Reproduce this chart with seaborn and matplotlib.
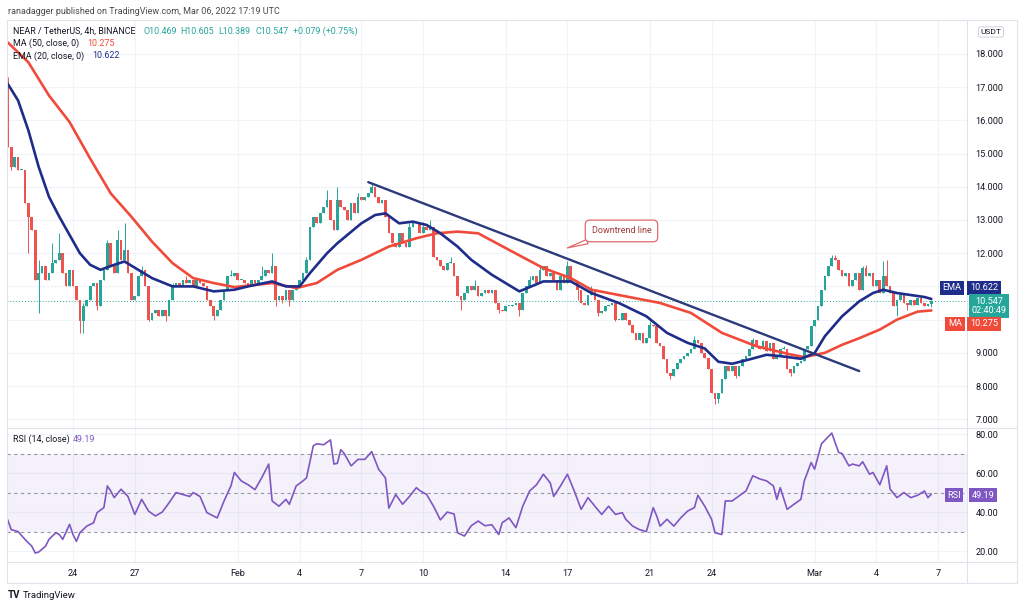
import numpy as np
import pandas as pd
import matplotlib
matplotlib.use("Agg")
import matplotlib.pyplot as plt
import matplotlib.dates as mdates
from matplotlib.lines import Line2D
from matplotlib.patches import Rectangle
import seaborn as sns

# NEAR / USDT 4h candles
first_time = "2022-01-20 20:00"
first_open = 17.2
closes = [
    15.2, 14.6, 14.9, 14.5, 14.5, 13.5, 13.1, 12.7, 11.2, 11.4,
    11.6, 11.2, 11.4, 11.7, 11.8, 12.0, 11.4, 11.0, 11.5, 11.0,
    10.6, 9.95, 10.4, 10.6, 11.0, 11.1, 10.4, 11.2, 11.5, 12.3,
    11.6, 11.4, 12.4, 11.8, 12.1, 11.4, 10.6, 10.7, 11.3, 11.5,
    11.0, 10.0, 10.2, 10.3, 10.1, 10.3, 10.1, 10.6, 11.0, 11.1,
    11.0, 11.2, 11.1, 11.2, 11.0, 11.2, 11.1, 11.0, 10.6, 10.4,
    10.1, 10.3, 10.6, 10.9, 11.3, 11.3, 11.4, 11.2, 11.2, 11.1,
    11.0, 11.2, 11.1, 11.2, 11.3, 11.5, 11.4, 11.6, 10.6, 10.7,
    10.6, 10.9, 10.6, 10.9, 11.0, 11.2, 11.4, 11.8, 12.8, 13.1,
    12.9, 13.2, 13.4, 13.6, 13.0, 12.7, 13.6, 13.4, 13.3, 13.0,
    13.5, 13.2, 13.7, 13.6, 13.7, 13.8, 14.0, 13.7, 13.5, 13.6,
    13.1, 12.6, 12.3, 12.2, 12.6, 12.3, 12.2, 12.8, 12.9, 12.9,
    12.6, 12.8, 12.7, 12.8, 11.9, 11.8, 11.6, 11.5, 11.7, 11.7,
    11.3, 10.7, 10.6, 10.8, 11.0, 10.9, 11.0, 10.7, 10.8, 10.9,
    10.8, 10.9, 10.5, 10.3, 10.25, 10.4, 10.4, 10.45, 10.5, 10.3,
    10.8, 11.0, 11.2, 11.3, 11.1, 11.5, 11.6, 11.3, 11.4, 11.2,
    10.9, 11.3, 11.1, 11.6, 11.15, 11.15, 10.9, 10.5, 10.45, 10.75,
    10.9, 10.6, 10.2, 10.25, 10.4, 10.45, 10.5, 10.0, 10.0, 10.2,
    10.0, 9.85, 9.6, 9.4, 9.6, 9.3, 9.45, 9.85, 9.8, 9.3,
    9.2, 8.8, 8.4, 8.3, 8.5, 8.7, 8.8, 8.9, 9.0, 9.1,
    9.4, 9.3, 9.0, 8.85, 8.5, 7.8, 7.6, 7.8, 8.2, 8.6,
    8.45, 8.6, 8.3, 8.6, 8.8, 8.9, 9.1, 9.4, 9.2, 9.1,
    9.35, 9.05, 9.3, 8.8, 8.9, 9.1, 9.1, 8.5, 8.4, 8.6,
    8.7, 8.75, 9.1, 9.2, 9.8, 10.0, 10.4, 10.9, 11.3, 11.6,
    11.85, 11.8, 11.5, 11.3, 11.4, 11.0, 11.2, 11.4, 10.9, 11.55,
    11.3, 11.4, 11.0, 11.2, 10.8, 11.3, 11.0, 10.8, 10.4, 10.6,
    10.75, 10.5, 10.45, 10.6, 10.45, 10.65, 10.5, 10.4, 10.469, 10.547,
]
high_idx = [0, 9, 13, 15, 22, 29, 32, 34, 39, 48, 52, 65, 74, 77, 87, 93, 96, 102, 106,
            117, 121, 123, 129, 136, 152, 155, 163, 170, 187, 200, 217, 220, 226,
            240, 241, 249, 250, 255, 256, 269]
high_val = [17.3, 11.8, 12.3, 12.6, 10.5, 12.4, 12.7, 12.9, 11.6, 11.1, 11.3, 11.5, 11.6, 12.0,
            11.9, 13.9, 14.0, 13.8, 14.1, 12.9, 12.95, 13.0, 11.9, 11.2, 11.3, 11.65, 11.75,
            11.0, 9.95, 9.5, 9.45, 9.4, 9.2, 11.95, 11.95, 11.6, 11.65, 11.75, 11.8, 10.605]
low_idx = [1, 6, 9, 21, 22, 26, 41, 46, 60, 78, 80, 82, 132, 143, 149, 166, 172, 177,
           193, 206, 207, 212, 228, 259, 262, 269]
low_val = [14.5, 12.0, 10.2, 9.6, 9.6, 10.3, 9.95, 9.95, 10.0, 10.4, 10.5, 10.4, 10.3, 10.2,
           10.1, 10.6, 10.1, 9.95, 8.2, 7.45, 7.5, 8.25, 8.3, 10.1, 10.3, 10.389]

ema_idx = [0, 3, 6, 9, 12, 15, 18, 21, 24, 27, 31, 34, 38, 42, 48, 54, 60, 66, 70, 77,
           81, 85, 88, 93, 96, 103, 107, 110, 114, 118, 122, 126, 131, 135, 141, 149, 156,
           164, 170, 178, 186, 192, 198, 203, 207, 211, 216, 221, 225, 231, 235, 238, 243,
           248, 252, 255, 259, 267, 269]
ema_val = [17.1, 16.6, 15.7, 14.6, 13.7, 13.1, 12.55, 12.0, 11.65, 11.5, 11.65, 11.75, 11.5,
           11.25, 11.0, 11.0, 10.85, 10.9, 11.0, 11.15, 11.0, 11.0, 11.4, 12.0, 12.3, 12.9,
           13.15, 13.2, 12.9, 12.95, 12.85, 12.6, 12.2, 11.8, 11.35, 10.85, 11.15, 11.15,
           10.8, 10.5, 10.1, 9.6, 9.3, 9.13, 8.73, 8.67, 8.8, 8.94, 8.9, 8.82, 8.99, 9.5,
           10.1, 10.55, 10.8, 10.9, 10.8, 10.68, 10.622]
ma_idx = [0, 6, 12, 18, 24, 30, 36, 42, 48, 54, 60, 66, 77, 84, 90, 96, 103, 111, 119, 125,
          131, 137, 146, 156, 164, 170, 180, 190, 199, 208, 218, 228, 232, 238, 243, 248,
          254, 259, 265, 269]
ma_val = [18.35, 17.75, 16.75, 15.95, 14.85, 13.8, 13.1, 12.35, 11.7, 11.25, 11.1, 10.98,
          11.1, 10.95, 11.1, 11.5, 11.8, 12.2, 12.45, 12.6, 12.65, 12.6, 12.1, 11.55, 11.25,
          10.9, 10.7, 10.5, 10.2, 9.6, 9.2, 8.95, 8.87, 9.0, 9.24, 9.44, 9.7, 10.0, 10.24,
          10.275]

rsi_idx = [0, 1, 3, 5, 7, 8, 9, 11, 12, 14, 15, 16, 18, 19, 20, 21, 23, 25, 26, 28, 29, 30,
           31, 33, 35, 37, 39, 41, 43, 45, 47, 49, 51, 53, 54, 56, 58, 61, 63, 65, 66, 68,
           70, 72, 74, 76, 77, 79, 81, 82, 84, 86, 87, 89, 90, 92, 94, 95, 96, 97, 98, 100,
           102, 104, 106, 108, 110, 111, 113, 115, 117, 119, 120, 122, 124, 126, 128, 130,
           131, 133, 135, 137, 139, 141, 143, 144, 146, 148, 150, 152, 154, 156, 158, 159,
           161, 163, 165, 167, 169, 171, 173, 175, 177, 179, 180, 182, 184, 186, 188, 189,
           190, 192, 194, 196, 198, 200, 201, 203, 205, 206, 208, 209, 211, 213, 215, 217,
           219, 221, 223, 224, 225, 227, 229, 231, 232, 234, 235, 237, 240, 242, 243, 245,
           246, 248, 249, 251, 252, 254, 256, 257, 259, 261, 263, 265, 267, 268, 269]
rsi_val = [36, 31, 30, 26, 22.5, 19, 19.5, 22.5, 26, 29.4, 28.5, 26, 33.7, 28.5, 25, 29.4,
           32.8, 34.5, 39.7, 42.3, 53.4, 50.8, 47.4, 51.7, 48, 38.8, 46.5, 40.5, 38, 40,
           44.8, 50, 49, 48, 50, 48, 39.7, 37, 45.7, 53.4, 60.3, 56, 54, 51.5, 57.7, 64.6,
           45.7, 43, 46.5, 44, 53.4, 56, 57.5, 74, 75, 74.5, 77, 64.6, 65, 72, 70, 63.7, 67,
           67, 71, 62, 57.5, 42, 49, 44, 48, 52.5, 51, 49, 43, 36, 40, 39, 29.4, 27.7, 33,
           35.4, 33, 33.5, 28.5, 34.5, 37, 32, 43, 50.8, 54, 59.4, 55, 48, 53.4, 59.4, 50.8,
           41.4, 47.4, 43, 38.8, 43, 38.8, 39.7, 36.3, 32.8, 31, 30, 42.3, 38, 32.8, 36.3,
           32.8, 37, 40.5, 42.3, 48.6, 43, 36.3, 29.4, 28.5, 45.7, 45.7, 48.3, 50.8, 58.6,
           57, 56, 53.4, 46.5, 52.5, 41.4, 44, 46.5, 56, 65.4, 62, 75, 80.5, 70.6, 70, 63.7,
           64.6, 63.7, 65.8, 59.4, 60.3, 54, 63.7, 51.7, 47.4, 50, 47.4, 48.6, 50.8, 47.4,
           49.19]

trend_time = ["2022-02-07 08:00", "2022-03-03 04:00"]
trend_price = [14.14, 8.45]
last_price = 10.547

price_ticks = [7, 8, 9, 10, 11, 12, 13, 14, 15, 16, 17, 18]
price_labels = ["7.000", "8.000", "9.000", "", "", "12.000", "13.000", "14.000",
                "15.000", "16.000", "17.000", "18.000"]
rsi_ticks = [20, 40, 60, 80]
rsi_labels = ["20.00", "40.00", "60.00", "80.00"]
date_ticks = ["2022-01-24", "2022-01-27", "2022-02-01", "2022-02-04", "2022-02-07",
              "2022-02-10", "2022-02-14", "2022-02-17", "2022-02-21", "2022-02-24",
              "2022-03-01", "2022-03-04", "2022-03-07"]
date_labels = ["24", "27", "Feb", "4", "7", "10", "14", "17", "21", "24", "Mar", "4", "7"]

GREEN = "#26a69a"
RED = "#ef5350"
MA_C = "#f04a3a"
EMA_C = "#1e2c8a"
RSI_C = "#7e57c2"
TXT = "#131722"
FRAME = "#e0e3eb"
GRID = "#f0f3fa"

sns.set_style("white")
plt.rcParams["font.family"] = ["Roboto", "DejaVu Sans"]

W, H = 1024, 609
fig = plt.figure(figsize=(W / 100, H / 100), dpi=100)


def fx(px):
    return px / W


def fy(py):
    return 1 - py / H


ax = fig.add_axes([fx(7), fy(428), fx(967) - fx(7), fy(20) - fy(428)])
ax_rsi = fig.add_axes([fx(7), fy(562), fx(967) - fx(7), fy(428) - fy(562)], sharex=ax)

times = pd.date_range(first_time, periods=len(closes), freq="4h")
t = mdates.date2num(times.to_pydatetime())
c = np.array(closes)
o = np.r_[first_open, c[:-1]]
hi = np.maximum(o, c)
lo = np.minimum(o, c)
hi[high_idx] = np.maximum(hi[high_idx], high_val)
lo[low_idx] = np.minimum(lo[low_idx], low_val)
cols = np.where(c >= o, GREEN, RED)

# candles
ax.vlines(t, lo, hi, colors=cols, lw=0.7, zorder=2)
ax.bar(t, np.maximum(np.abs(c - o), 0.03), bottom=np.minimum(o, c), width=0.13,
       color=cols, linewidth=0, zorder=3)

ax.axhline(last_price, color=GREEN, ls=(0, (1, 2)), lw=0.7, zorder=1)

ma_df = pd.DataFrame({"t": t[ma_idx], "v": ma_val})
ema_df = pd.DataFrame({"t": t[ema_idx], "v": ema_val})
sns.lineplot(data=ma_df, x="t", y="v", ax=ax, color=MA_C, lw=1.9, zorder=4)
sns.lineplot(data=ema_df, x="t", y="v", ax=ax, color=EMA_C, lw=1.9, zorder=5)

tr_t = mdates.date2num(pd.to_datetime(trend_time).to_pydatetime())
sns.lineplot(x=tr_t, y=trend_price, ax=ax, color="#2b3a7a", lw=1.7, zorder=6)

tip = mdates.date2num(pd.Timestamp("2022-02-17 00:00"))
box = mdates.date2num(pd.Timestamp("2022-02-19 15:00"))
ax.annotate("Downtrend line", xy=(tip, 12.16), xytext=(box, 12.67), ha="center", va="center",
            fontsize=6.5, color="#a13a3a", zorder=7,
            bbox=dict(boxstyle="round,pad=0.7,rounding_size=0.5", fc="white", ec="#e06a6a", lw=0.9),
            arrowprops=dict(arrowstyle="wedge,tail_width=0.5,shrink_factor=0.5", fc="white",
                            ec="#e06a6a", lw=0.9, shrinkA=0, shrinkB=0))

# RSI panel
ax_rsi.axhspan(30, 70, color=RSI_C, alpha=0.08, lw=0)
for lvl in (30, 50, 70):
    ax_rsi.axhline(lvl, color="#9598a1", ls=(0, (3, 3)), lw=0.8)
rsi_df = pd.DataFrame({"t": t[rsi_idx], "v": rsi_val})
sns.lineplot(data=rsi_df, x="t", y="v", ax=ax_rsi, color=RSI_C, lw=1.2)

# axes
t0 = mdates.date2num(pd.Timestamp("2022-01-24"))
ax.set_xlim(t0 + (7 - 73) / 20.6, t0 + (967 - 73) / 20.6)
ax.set_ylim(6.735, 19.024)
ax_rsi.set_ylim(14.4, 83.1)

for a in (ax, ax_rsi):
    for s in a.spines.values():
        s.set_visible(False)
    a.set_xlabel("")
    a.set_ylabel("")
    a.yaxis.tick_right()
    a.grid(True, color=GRID, lw=0.8)
    a.set_axisbelow(True)
    a.tick_params(axis="both", length=0, labelsize=6.6, labelcolor=TXT)
    a.tick_params(axis="y", pad=6)

ax.set_yticks(price_ticks)
ax.set_yticklabels(price_labels)
ax_rsi.set_yticks(rsi_ticks)
ax_rsi.set_yticklabels(rsi_labels)
ax_rsi.set_xticks(mdates.date2num(pd.to_datetime(date_ticks).to_pydatetime()))
ax_rsi.set_xticklabels(date_labels)
ax_rsi.tick_params(axis="x", pad=5)
ax.tick_params(axis="x", labelbottom=False)

# frame
fig.add_artist(Rectangle((fx(7), fy(583)), fx(1017) - fx(7), fy(20) - fy(583),
                         transform=fig.transFigure, fill=False, ec=FRAME, lw=0.8))
for xs, ys in [((967, 967), (20, 583)), ((7, 1017), (428, 428)), ((7, 1017), (562, 562))]:
    fig.add_artist(Line2D([fx(xs[0]), fx(xs[1])], [fy(ys[0]), fy(ys[1])],
                          transform=fig.transFigure, color=FRAME, lw=0.8))

# texts
fig.text(fx(8), fy(11), "ranadagger published on TradingView.com, Mar 06, 2022 17:19 UTC",
         fontsize=6.5, color="#4a4a4a", va="center")
fig.text(fx(13), fy(31), "NEAR / TetherUS, 4h, BINANCE", fontsize=6.4, color=TXT, va="center")
for txt, px in [("O10.469", 143), ("H10.605", 180), ("L10.389", 218), ("C10.547", 255),
                ("+0.079 (+0.75%)", 293)]:
    fig.text(fx(px), fy(31), txt, fontsize=6.4, color=GREEN, va="center")
fig.text(fx(13), fy(43), "MA (50, close, 0)", fontsize=6.4, color=TXT, va="center")
fig.text(fx(87), fy(43), "10.275", fontsize=6.4, color=MA_C, va="center")
fig.text(fx(13), fy(56), "EMA (20, close, 0)", fontsize=6.4, color=TXT, va="center")
fig.text(fx(92), fy(56), "10.622", fontsize=6.4, color=EMA_C, va="center")
fig.text(fx(13), fy(439), "RSI (14, close)", fontsize=6.4, color=TXT, va="center")
fig.text(fx(73), fy(439), "49.19", fontsize=6.4, color=RSI_C, va="center")

fig.text(fx(991), fy(32), "USDT", fontsize=6, color=TXT, ha="center", va="center",
         bbox=dict(boxstyle="round,pad=0.25", fc="white", ec="#c8cbd3", lw=0.6))


def tag(px, py, s, fc, ha="center", size=6.6):
    fig.text(fx(px), fy(py), s, fontsize=size, color="white", ha=ha, va="center",
             linespacing=1.1, bbox=dict(boxstyle="square,pad=0.28", fc=fc, ec="none"))


tag(952, 288, "EMA", EMA_C)
tag(984, 288, "10.622", EMA_C)
tag(989, 306, "10.547\n02:40:49", GREEN)
tag(955, 324, "MA", MA_C)
tag(984, 324, "10.275", MA_C)
tag(954, 495, "RSI", RSI_C)
tag(983, 495, "49.19", RSI_C)

fig.text(fx(8), fy(595), "TV", fontsize=7, color=TXT, fontweight="bold", va="center")
fig.text(fx(23), fy(595), "TradingView", fontsize=6.8, color=TXT, va="center")

fig.savefig("out.png", dpi=100)
